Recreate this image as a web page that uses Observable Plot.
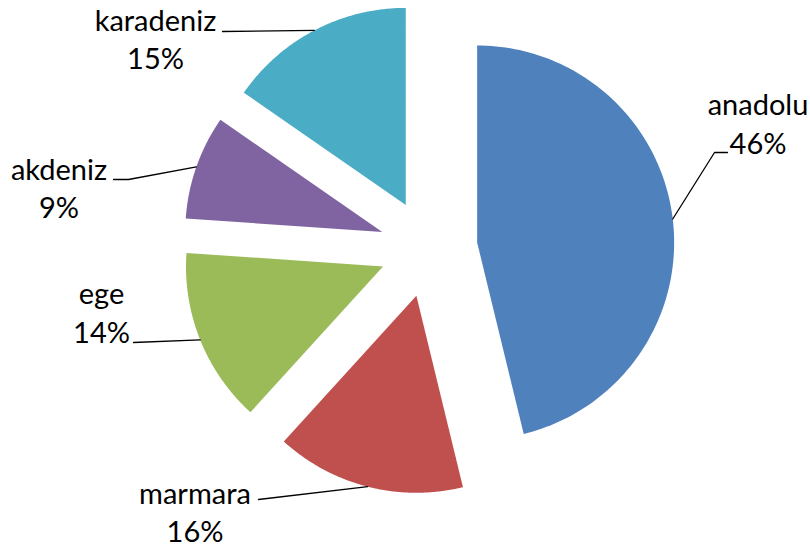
<!DOCTYPE html>
<html><head><meta charset="utf-8">
<script src="https://cdn.jsdelivr.net/npm/d3@7"></script>
<script src="https://cdn.jsdelivr.net/npm/@observablehq/plot@0.6"></script>
<style>html,body{margin:0;padding:0;background:#fff}#chart svg{display:block}</style>
</head><body><div id="chart"></div>
<script>
// ---- data ----
const categories = ["anadolu", "marmara", "ege", "akdeniz", "karadeniz"];
const values = [46.2, 15.55, 14.35, 8.55, 15.35];
const percentLabels = ["46%", "16%", "14%", "9%", "15%"];
const colors = ["#4F81BD", "#C0504D", "#9BBB59", "#8064A2", "#4BACC6"];

// ---- layout (pixels) ----
const W = 810, H = 553, R = 197, CX = 428, CY = 247.8, EXPLODE = 49 / R;
const FONT = "Lato, 'Open Sans', sans-serif", FS = 29;
const ux = px => (px - CX) / R, uy = py => (CY - py) / R;
const labelLayout = {
  anadolu:   {x: 757.5, y1: 114.3, y2: 153.3, leader: [[727, 152], [714, 152]]},
  marmara:   {x: 194.5, y1: 503.3, y2: 541.7, leader: [[258, 499]]},
  ege:       {x: 101,   y1: 303.3, y2: 342.7, leader: [[133, 342]]},
  akdeniz:   {x: 58.5,  y1: 179.3, y2: 217.3, leader: [[113, 179], [128, 179]]},
  karadeniz: {x: 155,   y1: 30.7,  y2: 68.3,  leader: [[222, 31]]}
};

const rows = categories.map((name, i) => ({name, value: values[i], pct: percentLabels[i]}));
const arcs = d3.pie().sort(null).value(d => d.value)(rows);

const slicePts = [], leaderPts = [], textRows = [];
arcs.forEach(a => {
  const name = a.data.name;
  const mid = (a.startAngle + a.endAngle) / 2;
  const ox = EXPLODE * Math.sin(mid), oy = EXPLODE * Math.cos(mid);
  slicePts.push({name, x: ox, y: oy});
  const N = 120;
  for (let k = 0; k <= N; k++) {
    const t = a.startAngle + (a.endAngle - a.startAngle) * k / N;
    slicePts.push({name, x: ox + Math.sin(t), y: oy + Math.cos(t)});
  }
  slicePts.push({name, x: ox, y: oy});
  const L = labelLayout[name];
  L.leader.forEach(([px, py]) => leaderPts.push({name, x: ux(px), y: uy(py)}));
  leaderPts.push({name, x: (1 + EXPLODE) * Math.sin(mid), y: (1 + EXPLODE) * Math.cos(mid)});
  textRows.push({x: ux(L.x), y: uy(L.y1), text: name});
  textRows.push({x: ux(L.x), y: uy(L.y2), text: a.data.pct});
});

const chart = Plot.plot({
  width: W, height: H,
  marginTop: 0, marginRight: 0, marginBottom: 0, marginLeft: 0,
  x: {domain: [ux(0), ux(W)], range: [0, W], axis: null},
  y: {domain: [uy(H), uy(0)], range: [H, 0], axis: null},
  color: {domain: categories, range: colors},
  style: {background: "#fff"},
  marks: [
    Plot.line(slicePts, {x: "x", y: "y", z: "name", fill: "name", stroke: "none", curve: "linear"}),
    Plot.line(leaderPts, {x: "x", y: "y", z: "name", stroke: "#000", strokeWidth: 1.3, curve: "linear"}),
    Plot.text(textRows, {x: "x", y: "y", text: "text", fill: "#000", fontSize: FS, fontFamily: FONT, textAnchor: "middle", lineAnchor: "bottom"})
  ]
});
document.getElementById("chart").appendChild(chart);
</script>
</body></html>
